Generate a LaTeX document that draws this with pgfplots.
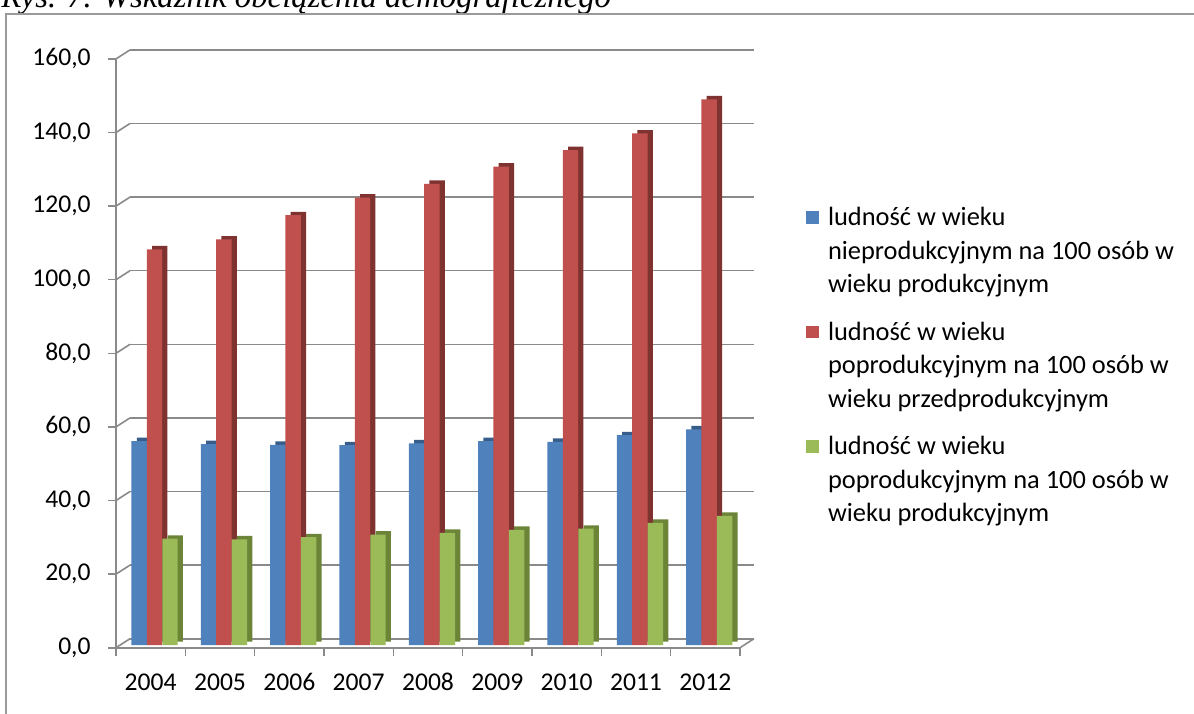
\documentclass[border=0pt]{standalone}
\usepackage{fontspec}
\setmainfont{Carlito}
\newfontfamily\titlefont{Liberation Serif}
\usepackage{pgfplots}
\pgfplotsset{compat=1.18}
\usepackage{pgfplotstable}

\definecolor{bblue}{HTML}{4F81BD}
\definecolor{bblued}{HTML}{385D8A}
\definecolor{bred}{HTML}{C0504D}
\definecolor{bredd}{HTML}{7F3331}
\definecolor{bgreen}{HTML}{9BBB59}
\definecolor{bgreend}{HTML}{6C8438}
\definecolor{gridc}{HTML}{8A8A8A}
\definecolor{framec}{HTML}{9A9A9A}

\pgfplotstableread{
x blue red green
0 55.4 107.5 28.9
1 54.6 110.2 28.7
2 54.4 116.8 29.3
3 54.3 121.6 30.0
4 54.8 125.3 30.5
5 55.4 130.0 31.3
6 55.2 134.5 31.6
7 57.0 139.0 33.2
8 58.6 148.3 35.1
}\datatable

\newcommand{\legtext}[3]{\parbox[t]{200pt}{\fontsize{13.2}{16.75}\selectfont\raggedright\strut #1\\#2\\#3\strut}}

\begin{document}
\begin{tikzpicture}
\path[use as bounding box] (0,0) rectangle (597pt,356.5pt);
\begin{scope}
\clip (0,0) rectangle (597pt,356.5pt);
\node[anchor=base west, inner sep=0pt, font=\titlefont\itshape\fontsize{16.4}{19}\selectfont] at (0.5pt,352.5pt) {Rys. 7. Wskaźnik obciążenia demograficznego};
\draw[framec, line width=1pt] (3pt,-5pt) -- (3pt,349.5pt) -- (605pt,349.5pt);
\end{scope}
\begin{axis}[
  at={(58pt,32.65pt)}, anchor=south west,
  scale only axis, width=312pt, height=294.4pt,
  xmin=-0.5, xmax=8.5, ymin=0, ymax=160,
  clip=false,
  axis x line*=bottom, axis y line*=left,
  axis line style={gridc, line width=0.8pt},
  tick align=outside,
  major tick length=4pt,
  tick style={gridc, line width=0.8pt},
  ytick={0,20,...,160},
  xtick={-0.5,0.5,1.5,2.5,3.5,4.5,5.5,6.5,7.5,8.5},
  xticklabels={2004,2005,2006,2007,2008,2009,2010,2011,2012,{}},
  xticklabel style={inner sep=0pt, text height=8pt, text depth=0pt, xshift=17.33pt, yshift=-9.3pt, font=\fontsize{12.8}{15}\selectfont},
  yticklabel style={inner sep=0pt, xshift=-8.5pt, font=\fontsize{12.8}{15}\selectfont,
    /pgf/number format/.cd, fixed, fixed zerofill, precision=1, use comma, assume math mode=true},
  ymajorgrids,
  major grid style={gridc, line width=0.8pt, xshift=7pt, yshift=4.5pt},
  legend style={at={(1.1058,0.7566)}, anchor=north west, draw=none, fill=none,
    inner sep=0pt, outer sep=0pt, row sep=44pt, column sep=4.5pt,
    nodes={inner sep=0pt}},
  legend cell align=left,
]
% side/top faces (depth)
\addplot[ybar, forget plot, bar width=7.7pt, bar shift=-5.75pt, fill=bblued, draw=none, xshift=2.65pt, yshift=3.05pt] table[x=x,y=blue] {\datatable};
\addplot[ybar, forget plot, bar width=7.7pt, bar shift=1.9pt, fill=bredd, draw=none, xshift=2.65pt, yshift=3.05pt] table[x=x,y=red] {\datatable};
\addplot[ybar, forget plot, bar width=7.7pt, bar shift=9.65pt, fill=bgreend, draw=none, xshift=2.65pt, yshift=3.05pt] table[x=x,y=green] {\datatable};
% front faces
\addplot[ybar, bar width=7.7pt, bar shift=-5.75pt, fill=bblue, draw=none, yshift=1.35pt,
  legend image code/.code={\path[fill=none,draw=none] (0pt,-1.5pt) rectangle (6.5pt,5pt); \fill[bblue,overlay] (0pt,-5.6pt) rectangle (6.5pt,0.65pt);}] table[x=x,y=blue] {\datatable};
\addlegendentry{\legtext{ludność w wieku}{nieprodukcyjnym na 100 osób w}{wieku produkcyjnym}}
\addplot[ybar, bar width=7.7pt, bar shift=1.9pt, fill=bred, draw=none, yshift=1.35pt,
  legend image code/.code={\path[fill=none,draw=none] (0pt,-1.5pt) rectangle (6.5pt,5pt); \fill[bred,overlay] (0pt,-5.6pt) rectangle (6.5pt,0.65pt);}] table[x=x,y=red] {\datatable};
\addlegendentry{\legtext{ludność w wieku}{poprodukcyjnym na 100 osób w}{wieku przedprodukcyjnym}}
\addplot[ybar, bar width=7.7pt, bar shift=9.65pt, fill=bgreen, draw=none, yshift=1.35pt,
  legend image code/.code={\path[fill=none,draw=none] (0pt,-1.5pt) rectangle (6.5pt,5pt); \fill[bgreen,overlay] (0pt,-5.6pt) rectangle (6.5pt,0.65pt);}] table[x=x,y=green] {\datatable};
\addlegendentry{\legtext{ludność w wieku}{poprodukcyjnym na 100 osób w}{wieku produkcyjnym}}
% 3D wall connectors
\pgfplotsinvokeforeach{0,20,40,60,80,100,120,140,160}{
  \draw[gridc, line width=0.8pt] (axis cs:-0.5,#1) -- ++(7pt,4.5pt);
}
\draw[gridc, line width=0.8pt] (axis cs:8.5,0) -- ++(7pt,4.5pt);
\end{axis}
\end{tikzpicture}
\end{document}
